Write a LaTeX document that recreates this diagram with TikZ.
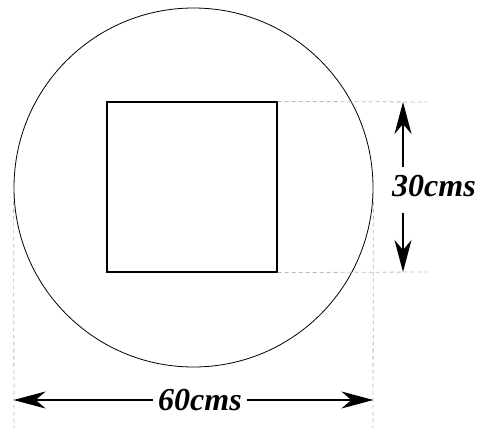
\documentclass[tikz,border=0pt]{standalone}
\usepackage{fontspec}
\setmainfont{Liberation Serif}
\usetikzlibrary{arrows.meta}

\begin{document}
\begin{tikzpicture}[
        x=1pt, y=-1pt,
        dimtext/.style={font=\fontsize{32}{32}\selectfont\bfseries\itshape, inner sep=5pt},
        dimarrow/.style={-{Stealth[length=32pt, width=17pt, inset=10pt]}, line width=1.2pt},
        guide/.style={gray!55, dash pattern=on 4pt off 3pt, line width=0.8pt},
    ]
    \useasboundingbox (0,0) rectangle (484,428);

    % --- shapes -----------------------------------------------------
    \node[circle, draw, line width=0.8pt, minimum size=359pt, inner sep=0pt] (disc) at (193.5,187.5) {};
    \node[rectangle, draw, line width=1.2pt, minimum width=170pt, minimum height=170pt, inner sep=0pt] (plate) at (192,187) {};

    % --- guide lines ------------------------------------------------
    \coordinate (gtop) at (427,102);
    \coordinate (gbot) at (427,272);
    \draw[guide] (plate.north east) -- (gtop);
    \draw[guide] (plate.south east) -- (gbot);
    \coordinate (gleft)  at (14,428);
    \coordinate (gright) at (373,428);
    \draw[guide] (disc.west) -- (gleft);
    \draw[guide] (disc.east) -- (gright);

    % --- side dimension ---------------------------------------------
    \node[dimtext] (side) at (434,186) {30cms};
    \coordinate (sidetop)  at (403,102);
    \coordinate (sidebot)  at (403,272);
    \coordinate (sideup)   at (403,167);
    \coordinate (sidedown) at (403,213);
    \draw[dimarrow] (sideup) -- (sidetop);
    \draw[dimarrow] (sidedown) -- (sidebot);

    % --- diameter dimension -----------------------------------------
    \node[dimtext] (diam) at (200,400) {60cms};
    \draw[dimarrow] (diam.west) -- (diam.west -| disc.west);
    \draw[dimarrow] (diam.east) -- (diam.east -| disc.east);
\end{tikzpicture}
\end{document}
